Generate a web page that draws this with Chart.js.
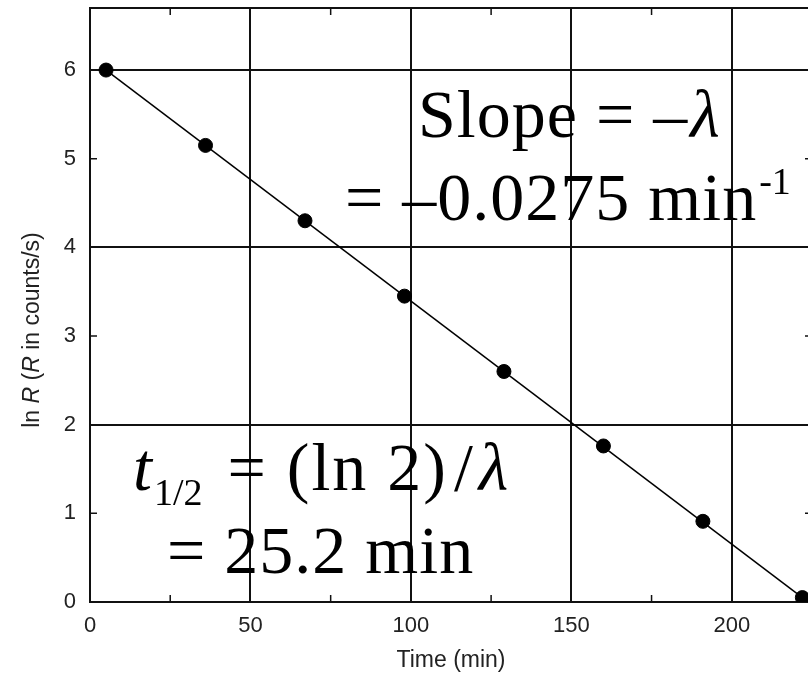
<!DOCTYPE html>
<html>
<head>
<meta charset="utf-8">
<script src="https://cdn.jsdelivr.net/npm/chart.js@4.4.1/dist/chart.umd.min.js"></script>
<style>
  html, body { margin: 0; padding: 0; background: #fff; overflow: hidden; }
  #wrap { position: absolute; left: 0; top: 0; width: 820px; height: 681px; }
</style>
</head>
<body>
<div id="wrap"><canvas id="grafico"></canvas></div>
<script>
// pontos medidos
const tempo = [5, 36, 67, 98, 129, 160, 191, 222];
const lnR = [6.0, 5.15, 4.3, 3.45, 2.6, 1.76, 0.91, 0.05];

// reta ajustada (inclinação -0.0275)
const tempoReta = [5, 222];
const lnRReta = [6.0, 0.05];

// tracinhos menores dos eixos
const xMenores = [25, 75, 125, 175, 225];
const yMenores = [1, 3, 5];

const preto = "#111";
const fonteEixo = "Liberation Sans, Arial, sans-serif";
const serif = "Liberation Serif, Times New Roman, serif";

// escreve pedaços de texto em sequência
function escreve(ctx, partes, x, y) {
  let cx = x;
  partes.forEach(p => {
    ctx.font = p.f;
    ctx.letterSpacing = p.ls || "0px";
    cx += p.dx || 0;
    ctx.fillText(p.t, cx, y + (p.dy || 0));
    cx += ctx.measureText(p.t).width;
  });
  ctx.letterSpacing = "0px";
}

const extras = {
  id: "extras",
  afterDatasetsDraw(chart) {
    const { ctx, chartArea: a, scales: { x, y } } = chart;
    ctx.save();
    ctx.strokeStyle = preto;
    ctx.lineWidth = 2;
    // borda de cima e da direita
    ctx.beginPath();
    ctx.moveTo(a.left, a.top);
    ctx.lineTo(a.right, a.top);
    ctx.lineTo(a.right, a.bottom);
    ctx.stroke();

    ctx.lineWidth = 1.5;
    xMenores.forEach(v => {
      const px = x.getPixelForValue(v);
      ctx.beginPath();
      ctx.moveTo(px, a.bottom); ctx.lineTo(px, a.bottom - 7);
      ctx.moveTo(px, a.top); ctx.lineTo(px, a.top + 7);
      ctx.stroke();
    });
    yMenores.forEach(v => {
      const py = y.getPixelForValue(v);
      ctx.beginPath();
      ctx.moveTo(a.left, py); ctx.lineTo(a.left + 7, py);
      ctx.moveTo(a.right, py); ctx.lineTo(a.right - 7, py);
      ctx.stroke();
    });
    ctx.restore();
  },
  afterDraw(chart) {
    const ctx = chart.ctx;
    ctx.save();
    ctx.fillStyle = "#000";
    ctx.textBaseline = "alphabetic";
    ctx.textAlign = "left";

    const f68 = "68px " + serif;
    const i68 = "italic 68px " + serif;
    const f38 = "38px " + serif;

    escreve(ctx, [{ t: "Slope = –", f: f68, ls: "1px" }, { t: "λ", f: i68, dx: 2 }], 418, 137);
    escreve(ctx, [{ t: "= –0.0275 min", f: f68, ls: "1px" }, { t: "-1", f: f38, dy: -26, dx: 2 }], 345, 220);
    escreve(ctx, [
      { t: "t", f: i68 },
      { t: "1/2", f: f38, dy: 15, dx: 2 },
      { t: " = (ln 2)", f: f68, dx: 6, ls: "2px" },
      { t: "/", f: f68, dx: 6 },
      { t: "λ", f: i68, dx: 6 }
    ], 133, 490);
    escreve(ctx, [{ t: "= 25.2 min", f: f68, ls: "1px" }], 167, 573);

    // título do eixo y com R em itálico
    const partes = [
      { t: "ln ", f: "23px " + fonteEixo },
      { t: "R", f: "italic 23px " + fonteEixo },
      { t: " (", f: "23px " + fonteEixo },
      { t: "R", f: "italic 23px " + fonteEixo },
      { t: " in counts/s)", f: "23px " + fonteEixo }
    ];
    let w = 0;
    partes.forEach(p => { ctx.font = p.f; w += ctx.measureText(p.t).width; });
    ctx.translate(33, 330);
    ctx.rotate(-Math.PI / 2);
    ctx.fillStyle = "#222";
    ctx.textBaseline = "middle";
    escreve(ctx, partes, -w / 2, 0);
    ctx.restore();
  }
};

const ctx = document.getElementById("grafico");

new Chart(ctx, {
  type: "scatter",
  data: {
    datasets: [
      {
        label: "medidas",
        data: tempo.map((t, i) => ({ x: t, y: lnR[i] })),
        pointRadius: 7,
        pointBackgroundColor: "#000",
        pointBorderColor: "#000",
        showLine: false,
        order: 0
      },
      {
        label: "ajuste",
        data: tempoReta.map((t, i) => ({ x: t, y: lnRReta[i] })),
        showLine: true,
        borderColor: "#000",
        borderWidth: 1.5,
        pointRadius: 0,
        order: 1
      }
    ]
  },
  options: {
    responsive: true,
    maintainAspectRatio: false,
    animation: false,
    layout: { padding: { top: 8, left: 0, right: 0, bottom: 0 } },
    plugins: {
      legend: { display: false },
      tooltip: { enabled: false }
    },
    scales: {
      x: {
        type: "linear",
        min: 0,
        max: 225,
        afterFit: s => {
          s.height = 79;
          s.paddingLeft = 0;
          s.paddingRight = 0;
        },
        ticks: {
          stepSize: 25,
          includeBounds: false,
          autoSkip: false,
          maxRotation: 0,
          padding: 11,
          color: "#222",
          font: { family: fonteEixo, size: 22 },
          callback: v => (v % 50 === 0 ? v : "")
        },
        grid: {
          drawTicks: false,
          lineWidth: 2,
          color: c => (c.tick && c.tick.value % 50 === 0 && c.tick.value > 0 ? preto : "rgba(0,0,0,0)")
        },
        border: { color: preto, width: 2 },
        title: {
          display: true,
          text: "Time (min)",
          color: "#222",
          font: { family: fonteEixo, size: 23 },
          padding: { top: 0, bottom: 7 }
        }
      },
      y: {
        min: 0,
        max: 6.7,
        afterFit: s => {
          s.width = 90;
          s.paddingTop = 0;
          s.paddingBottom = 0;
        },
        ticks: {
          stepSize: 1,
          includeBounds: false,
          padding: 14,
          color: "#222",
          font: { family: fonteEixo, size: 22 }
        },
        grid: {
          drawTicks: false,
          lineWidth: 2,
          color: c => (c.tick && c.tick.value % 2 === 0 && c.tick.value > 0 ? preto : "rgba(0,0,0,0)")
        },
        border: { color: preto, width: 2 }
      }
    }
  },
  plugins: [extras]
});
</script>
</body>
</html>
